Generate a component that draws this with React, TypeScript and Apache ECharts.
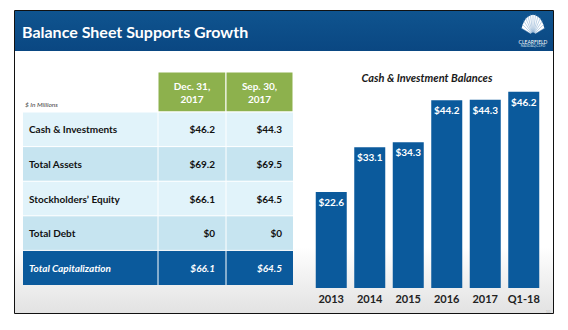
import React, { useEffect, useRef } from "react";
import * as echarts from "echarts";

const categories = ["2013", "2014", "2015", "2016", "2017", "Q1-18"];
const cashBalances = [22.6, 33.1, 34.3, 44.2, 44.3, 46.2];

const rowLabels = [
  "Cash & Investments",
  "Total Assets",
  "Stockholders\u2019 Equity",
  "Total Debt",
  "Total Capitalization",
];
const colHeaders = ["Dec. 31,\n2017", "Sep. 30,\n2017"];
const dec2017 = [46.2, 69.2, 66.1, 0, 66.1];
const sep2017 = [44.3, 69.5, 64.5, 0, 64.5];

const fmt = (v: number) => "$" + (v === 0 ? "0" : v.toFixed(1));

const FONT = "Lato, 'Open Sans', sans-serif";

export default function App() {
  const ref = useRef<HTMLDivElement>(null);
  useEffect(() => {
    if (!ref.current) return;
    const chart = echarts.init(ref.current, undefined, { renderer: "svg" });

    const tableLeft = 23;
    const col1 = 158;
    const col2 = 226;
    const tableRight = 293;
    const headTop = 72;
    const headBottom = 112;
    const rowH = 34.6;
    const rowFills = ["#e1f3fa", "#c6e4f0", "#e1f3fa", "#c6e4f0", "#0b5a9c"];

    const g: any[] = [];
    // slide background
    g.push({
      type: "rect",
      shape: { x: 14.5, y: 10.5, width: 539, height: 303 },
      style: {
        fill: new echarts.graphic.LinearGradient(0, 0, 0, 1, [
          { offset: 0, color: "#ffffff" },
          { offset: 0.78, color: "#ffffff" },
          { offset: 1, color: "#e2e2e2" },
        ]),
        stroke: "#111",
        lineWidth: 1,
      },
      z: -10,
    });
    // header
    g.push({
      type: "rect",
      shape: { x: 15, y: 11, width: 538, height: 40 },
      style: {
        fill: new echarts.graphic.LinearGradient(0, 0, 0, 1, [
          { offset: 0, color: "#0f548f" },
          { offset: 1, color: "#0a4782" },
        ]),
      },
      z: -9,
    });
    g.push({
      type: "text",
      x: 22,
      y: 31,
      style: {
        text: "Balance Sheet Supports Growth",
        fill: "#ffffff",
        font: `bold 16px ${FONT}`,
        verticalAlign: "middle",
      },
    });
    // logo (shell) as polygon fan
    const cx = 533, cy = 35;
    const pts: number[][] = [[cx, cy]];
    const a0 = (Math.PI * 10) / 9, a1 = (Math.PI * 17) / 9;
    for (let i = 0; i <= 24; i++) {
      const a = a0 + ((a1 - a0) * i) / 24;
      pts.push([cx + 12 * Math.cos(a), cy + 20 * Math.sin(a)]);
    }
    g.push({ type: "polygon", shape: { points: pts }, style: { fill: "#ffffff" } });
    for (let i = 0; i <= 12; i++) {
      const a = a0 + ((a1 - a0) * i) / 12;
      g.push({
        type: "line",
        shape: { x1: cx, y1: cy, x2: cx + 13 * Math.cos(a), y2: cy + 21 * Math.sin(a) },
        style: { stroke: "#7aa3cb", lineWidth: 0.5 },
      });
    }
    g.push({
      type: "circle",
      shape: { cx, cy, r: 2.5 },
      style: { fill: "#0d4e89" },
    });
    g.push({
      type: "text",
      x: cx,
      y: 41.5,
      style: { text: "CLEARFIELD", fill: "#ffffff", font: `5px ${FONT}`, align: "center", verticalAlign: "middle" },
    });
    g.push({
      type: "text",
      x: cx,
      y: 46,
      style: { text: "NASDAQ:CLFD", fill: "#cfe0ef", font: `3.5px ${FONT}`, align: "center", verticalAlign: "middle" },
    });

    // table header cells
    [col1, col2].forEach((x, i) => {
      const w = (i === 0 ? col2 : tableRight) - x;
      g.push({
        type: "rect",
        shape: { x, y: headTop, width: w, height: headBottom - headTop },
        style: { fill: "#8db14d", stroke: "#ffffff", lineWidth: 1 },
      });
      g.push({
        type: "text",
        x: x + w / 2,
        y: (headTop + headBottom) / 2,
        style: {
          text: colHeaders[i],
          fill: "#ffffff",
          font: `bold 10px ${FONT}`,
          align: "center",
          verticalAlign: "middle",
          lineHeight: 13,
        },
      });
    });
    g.push({
      type: "text",
      x: 25,
      y: 104,
      style: { text: "$ In Millions", fill: "#444", font: `italic 6.5px ${FONT}`, verticalAlign: "middle" },
    });

    rowLabels.forEach((label, r) => {
      const y = headBottom + r * rowH;
      const last = r === rowLabels.length - 1;
      g.push({
        type: "rect",
        shape: { x: tableLeft, y, width: tableRight - tableLeft, height: rowH },
        style: { fill: rowFills[r] },
      });
      [col1, col2].forEach((x) => {
        g.push({
          type: "line",
          shape: { x1: x, y1: y, x2: x, y2: y + rowH },
          style: { stroke: "#ffffff", lineWidth: 1 },
        });
      });
      g.push({
        type: "line",
        shape: { x1: tableLeft, y1: y, x2: tableRight, y2: y },
        style: { stroke: "#ffffff", lineWidth: 1 },
      });
      const font = last ? `italic bold 10px ${FONT}` : `bold 10px ${FONT}`;
      const fill = last ? "#ffffff" : "#111111";
      g.push({
        type: "text",
        x: 29,
        y: y + rowH / 2,
        style: { text: label, fill, font, verticalAlign: "middle" },
      });
      g.push({
        type: "text",
        x: 215,
        y: y + rowH / 2,
        style: { text: fmt(dec2017[r]), fill, font, align: "right", verticalAlign: "middle" },
      });
      g.push({
        type: "text",
        x: 282,
        y: y + rowH / 2,
        style: { text: fmt(sep2017[r]), fill, font, align: "right", verticalAlign: "middle" },
      });
    });

    g.push({
      type: "text",
      x: 548,
      y: 311,
      style: { text: "10", fill: "#bbbbbb", font: `4px ${FONT}`, align: "center", verticalAlign: "middle" },
    });

    chart.setOption({
      animation: false,
      title: {
        text: "Cash & Investment Balances",
        left: 422,
        top: 67,
        textAlign: "center",
        textStyle: { color: "#1a1a1a", fontFamily: FONT, fontWeight: "bold", fontStyle: "italic", fontSize: 11 },
      },
      grid: { left: 312, right: 25, top: 84, bottom: 42, containLabel: false },
      xAxis: {
        type: "category",
        data: categories,
        axisLine: { show: false },
        axisTick: { show: false },
        axisLabel: { interval: 0, color: "#222", fontFamily: FONT, fontWeight: "bold", fontSize: 11, margin: 5 },
      },
      yAxis: { type: "value", min: 0, max: 48, show: false, splitLine: { show: false } },
      graphic: g,
      series: [
        {
          type: "bar",
          data: cashBalances,
          barWidth: 31,
          itemStyle: { color: "#0b5a9c" },
          label: {
            show: true,
            position: "insideTop",
            distance: 5,
            formatter: (p: any) => "$" + p.value.toFixed(1),
            color: "#ffffff",
            fontFamily: FONT,
            fontWeight: "bold",
            fontSize: 10,
          },
        },
      ],
    });
    return () => chart.dispose();
  }, []);
  return (
    <div
      ref={ref}
      style={{ position: "absolute", left: 0, top: 0, width: 568, height: 330, background: "#ffffff" }}
    />
  );
}
